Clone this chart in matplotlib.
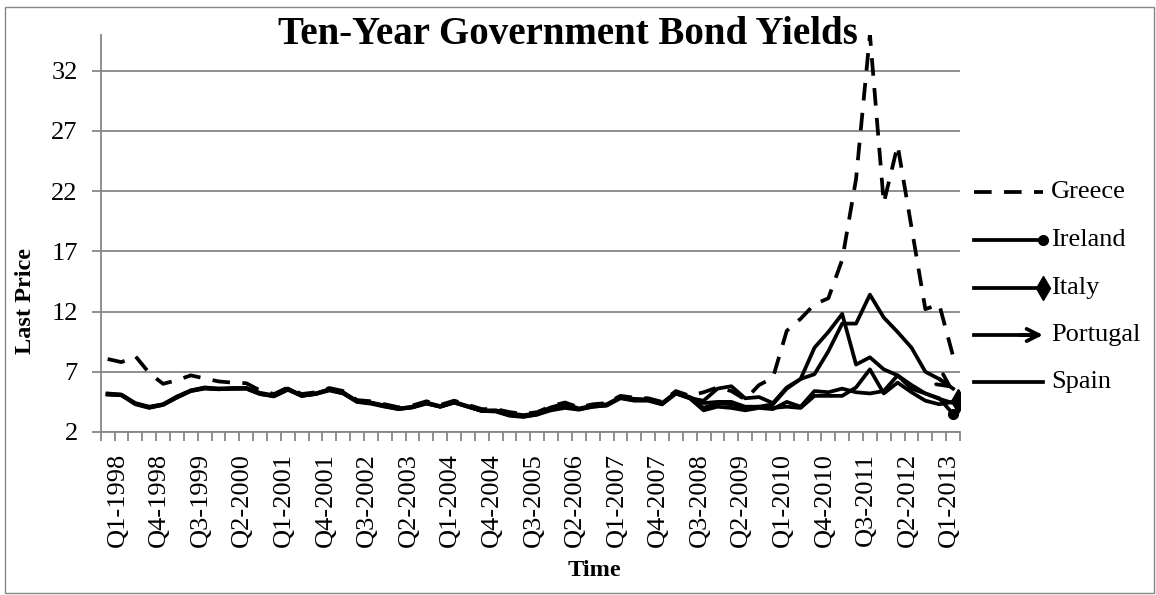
import numpy as np
import matplotlib
matplotlib.use("Agg")
import matplotlib.pyplot as plt
import matplotlib.transforms as mtrans
from matplotlib.lines import Line2D
from matplotlib.patches import Rectangle

# Quarterly categories Q1-1998 .. Q2-2013
quarters = ["Q%d-%d" % (q, y) for y in range(1998, 2014) for q in range(1, 5)][:62]
tick_labels = ["Q1-1998", "Q4-1998", "Q3-1999", "Q2-2000", "Q1-2001", "Q4-2001",
               "Q3-2002", "Q2-2003", "Q1-2004", "Q4-2004", "Q3-2005", "Q2-2006",
               "Q1-2007", "Q4-2007", "Q3-2008", "Q2-2009", "Q1-2010", "Q4-2010",
               "Q3-2011", "Q2-2012", "Q1-2013"]

greece = [8.06, 7.8, 8.3, 6.9, 6.0, 6.3, 6.7, 6.45, 6.2, 6.1, 6.05, 5.45,
          5.15, 5.7, 5.15, 5.3, 5.65, 5.4, 4.65, 4.55, 4.3, 4.05, 4.2, 4.55,
          4.25, 4.6, 4.25, 3.9, 3.9, 3.65, 3.5, 3.65, 4.15, 4.45, 4.05, 4.3,
          4.4, 5.0, 4.85, 4.8, 4.5, 5.4, 5.0, 5.3, 5.7, 5.4, 4.7, 5.9,
          6.5, 10.4, 11.4, 12.6, 13.1, 16.3, 23.0, 35.0, 21.0, 25.8, 19.0, 12.2,
          12.6, 8.3]
ireland = [5.1, 5.05, 4.3, 4.0, 4.25, 4.85, 5.4, 5.6, 5.55, 5.6, 5.6, 5.15,
           4.95, 5.5, 5.0, 5.15, 5.45, 5.2, 4.5, 4.35, 4.1, 3.9, 4.05, 4.35,
           4.1, 4.45, 4.1, 3.75, 3.7, 3.35, 3.25, 3.45, 3.8, 4.0, 3.85, 4.1,
           4.2, 4.8, 4.6, 4.6, 4.3, 5.2, 4.8, 4.6, 5.6, 5.8, 4.8, 4.9,
           4.4, 5.7, 6.4, 9.0, 10.3, 11.8, 7.6, 8.2, 7.2, 6.7, 5.9, 5.2,
           4.8, 3.5]
italy = [5.2, 5.1, 4.4, 4.1, 4.3, 4.95, 5.45, 5.7, 5.6, 5.65, 5.65, 5.25,
         5.05, 5.6, 5.05, 5.2, 5.55, 5.3, 4.55, 4.45, 4.2, 3.95, 4.1, 4.45,
         4.15, 4.5, 4.15, 3.8, 3.8, 3.55, 3.4, 3.55, 4.05, 4.35, 3.95, 4.2,
         4.3, 4.9, 4.75, 4.7, 4.4, 5.3, 4.9, 4.4, 4.5, 4.5, 4.1, 4.1,
         4.0, 4.1, 4.0, 5.0, 5.0, 5.0, 5.7, 7.2, 5.2, 6.1, 5.3, 4.6,
         4.3, 4.5]
portugal = [5.15, 5.1, 4.35, 4.05, 4.3, 4.9, 5.45, 5.65, 5.6, 5.6, 5.65, 5.2,
            5.0, 5.6, 5.0, 5.2, 5.5, 5.25, 4.55, 4.4, 4.15, 3.95, 4.05, 4.4,
            4.1, 4.45, 4.1, 3.75, 3.75, 3.5, 3.3, 3.5, 4.0, 4.3, 3.9, 4.15,
            4.25, 4.85, 4.7, 4.65, 4.35, 5.25, 4.85, 4.0, 4.4, 4.3, 4.0, 4.1,
            4.3, 5.6, 6.4, 6.8, 8.7, 11.0, 11.0, 13.4, 11.5, 10.3, 9.0, 7.0,
            6.4, 5.6]
spain = [5.15, 5.05, 4.35, 4.05, 4.25, 4.9, 5.4, 5.65, 5.55, 5.6, 5.6, 5.15,
         5.0, 5.55, 5.0, 5.15, 5.5, 5.2, 4.5, 4.4, 4.15, 3.9, 4.05, 4.4,
         4.1, 4.45, 4.1, 3.75, 3.75, 3.4, 3.3, 3.45, 3.95, 4.25, 3.9, 4.1,
         4.2, 4.85, 4.65, 4.65, 4.3, 5.2, 4.8, 3.8, 4.1, 4.0, 3.8, 4.0,
         3.9, 4.5, 4.1, 5.4, 5.3, 5.6, 5.3, 5.2, 5.4, 6.7, 5.6, 5.2,
         4.75, 4.4]

W, H = 1156, 595
plt.rcParams['font.family'] = ['Liberation Serif', 'DejaVu Serif']

fig = plt.figure(figsize=(W / 100, H / 100), dpi=100)
ax = fig.add_axes([100.7 / W, 1 - 432 / H, (960 - 100.7) / W, (432 - 34.5) / H])

x = np.arange(len(quarters))
lw = 2.7
dash = (4.7, 3.3)
ax.plot(x, greece, color='black', lw=lw, dashes=dash, zorder=3)
ax.plot(x, ireland, color='black', lw=lw, zorder=3)
ax.plot(x, italy, color='black', lw=lw, zorder=3)
ax.plot(x, portugal, color='black', lw=lw, zorder=3)
ax.plot(x, spain, color='black', lw=lw, zorder=3)

# line end decorations (Excel end caps)
ax.plot(x[-1], ireland[-1], 'o', color='black', ms=7, zorder=4)
ax.plot(x[-1] + 0.35, italy[-1] + 0.05, 'd', color='black', ms=12, zorder=4)
ax.annotate('', xy=(x[-1], portugal[-1]), xytext=(x[-2], portugal[-2]),
            arrowprops=dict(arrowstyle='->', lw=lw, color='black',
                            shrinkA=0, shrinkB=0, mutation_scale=22), zorder=4)

grey = '#868686'
ax.set_xlim(-0.5, len(quarters) - 0.5)
ax.set_ylim(2, 35)
ax.set_yticks([2, 7, 12, 17, 22, 27, 32])
ax.yaxis.grid(True, color=grey, lw=1.3)
ax.set_axisbelow(True)
for s in ['top', 'right']:
    ax.spines[s].set_visible(False)
for s in ['left', 'bottom']:
    ax.spines[s].set_color(grey)
    ax.spines[s].set_linewidth(1.3)

ax.set_xticks(x[::3])
ax.set_xticklabels(tick_labels, rotation=90, fontsize=19)
ax.set_xticks(np.arange(-0.5, len(quarters), 1), minor=True)
ax.tick_params(axis='x', which='major', length=0, pad=15)
ax.tick_params(axis='x', which='minor', length=6.5, width=1.3, color=grey)
ax.tick_params(axis='y', length=6.5, width=1.3, color=grey, labelsize=19, pad=10)

# nudge the rotated labels so the glyphs sit where Excel put them
shift = mtrans.ScaledTranslation(10 / 100, 0, fig.dpi_scale_trans)
for lab in ax.get_xticklabels():
    lab.set_transform(lab.get_transform() + shift)

fig.text(568 / W, 1 - 34 / H, "Ten-Year Government Bond Yields", ha='center',
         va='center', fontsize=28, fontweight='bold')
fig.text(26 / W, 1 - 301 / H, "Last Price", rotation=90, ha='center', va='center',
         fontsize=17.5, fontweight='bold')
fig.text(594 / W, 1 - 570 / H, "Time", ha='center', va='center',
         fontsize=17.5, fontweight='bold')

# legend drawn by hand, Excel style
names = ["Greece", "Ireland", "Italy", "Portugal", "Spain"]
rows = [192, 240, 288, 335, 382]
x0, x1 = 974 / W, 1043 / W
for name, ry in zip(names, rows):
    yy = 1 - ry / H
    if name == "Greece":
        fig.add_artist(Line2D([x0, x1], [yy, yy], color='black', lw=lw, dashes=dash))
    elif name == "Portugal":
        fig.add_artist(Line2D([x0, x1 - 0.004], [yy, yy], color='black', lw=lw))
        ax.annotate('', xy=(x1, yy), xytext=(x1 - 0.02, yy),
                    xycoords='figure fraction', textcoords='figure fraction',
                    arrowprops=dict(arrowstyle='->', lw=lw, color='black',
                                    shrinkA=0, shrinkB=0, mutation_scale=22))
    else:
        fig.add_artist(Line2D([x0, x1], [yy, yy], color='black', lw=lw))
    if name == "Ireland":
        fig.add_artist(Line2D([x1], [yy], marker='o', color='black', ms=7))
    if name == "Italy":
        fig.add_artist(Line2D([x1], [yy], marker='d', color='black', ms=12))
    fig.text(1051 / W, yy, name, ha='left', va='center', fontsize=19)

fig.add_artist(Rectangle((4.5 / W, 1 - 592.5 / H), 1149 / W, 586 / H,
                         transform=fig.transFigure, fill=False, ec=grey, lw=1))

fig.savefig("out.png", dpi=100)
